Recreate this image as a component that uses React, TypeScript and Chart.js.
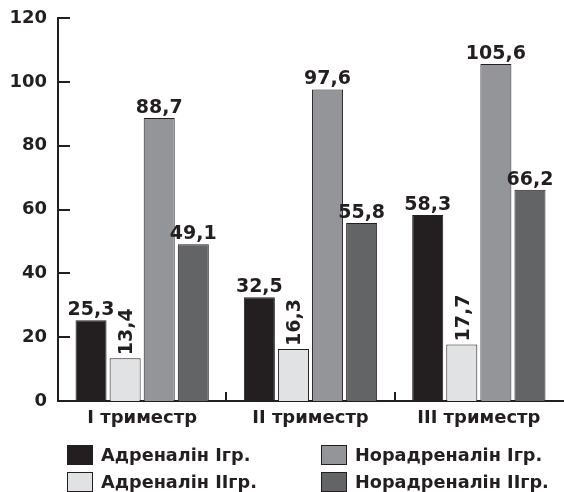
import React, { useEffect, useRef } from "react";
import { Chart, registerables } from "chart.js";
Chart.register(...registerables);

const categories = ["I триместр", "II триместр", "III триместр"];
const seriesNames = ["Адреналін Ігр.", "Адреналін ІІгр.", "Норадреналін Ігр.", "Норадреналін ІІгр."];
const adrenalin1 = [25.3, 32.5, 58.3];
const adrenalin2 = [13.4, 16.3, 17.7];
const noradrenalin1 = [88.7, 97.6, 105.6];
const noradrenalin2 = [49.1, 55.8, 66.2];
const yMin = 0;
const yMax = 120;
const yStep = 20;
const colors = ["#231f20", "#e1e2e4", "#939598", "#636466"];
const INK = "#231f20";
const FONT = "'DejaVu Sans', sans-serif";

const valueLabels = {
  id: "valueLabels",
  afterDatasetsDraw(chart: any) {
    const ctx = chart.ctx;
    ctx.save();
    ctx.font = `bold 19px ${FONT}`;
    ctx.fillStyle = INK;
    chart.data.datasets.forEach((ds: any, i: number) => {
      const meta = chart.getDatasetMeta(i);
      meta.data.forEach((bar: any, j: number) => {
        const txt = String(ds.data[j]).replace(".", ",");
        if (i === 1) {
          ctx.save();
          ctx.translate(bar.x + 2, bar.y - 3);
          ctx.rotate(-Math.PI / 2);
          ctx.textAlign = "left";
          ctx.textBaseline = "middle";
          ctx.fillText(txt, 0, 0);
          ctx.restore();
        } else {
          ctx.textAlign = "center";
          ctx.textBaseline = "alphabetic";
          ctx.fillText(txt, bar.x, bar.y - 5);
        }
      });
    });
    ctx.restore();
  },
};

const innerTicks = {
  id: "innerTicks",
  afterDraw(chart: any) {
    const ctx = chart.ctx;
    const area = chart.chartArea;
    const y = chart.scales.y;
    const x = chart.scales.x;
    ctx.save();
    ctx.strokeStyle = INK;
    ctx.lineWidth = 2;
    y.ticks.forEach((t: any) => {
      if (t.value === 0) return;
      const py = Math.round(y.getPixelForValue(t.value));
      ctx.beginPath();
      ctx.moveTo(area.left, py);
      ctx.lineTo(area.left + 12, py);
      ctx.stroke();
    });
    for (let i = 0; i < categories.length - 1; i++) {
      const px = Math.round((x.getPixelForValue(i) + x.getPixelForValue(i + 1)) / 2);
      ctx.beginPath();
      ctx.moveTo(px, area.bottom);
      ctx.lineTo(px, area.bottom - 9);
      ctx.stroke();
    }
    ctx.restore();
  },
};

export default function App() {
  const ref = useRef<HTMLCanvasElement>(null);
  useEffect(() => {
    document.body.style.margin = "0";
    const data = [adrenalin1, adrenalin2, noradrenalin1, noradrenalin2];
    const chart = new Chart(ref.current as HTMLCanvasElement, {
      type: "bar",
      data: {
        labels: categories,
        datasets: data.map((d, i) => ({
          label: seriesNames[i],
          data: d,
          backgroundColor: colors[i],
          borderColor: INK,
          borderWidth: 1,
          categoryPercentage: 0.81,
          barPercentage: 0.91,
        })),
      },
      options: {
        responsive: false,
        animation: false,
        layout: { padding: { top: 18, right: 1, left: 0, bottom: 0 } },
        plugins: { legend: { display: false }, tooltip: { enabled: false } },
        scales: {
          x: {
            grid: { display: false, drawTicks: false },
            border: { display: true, width: 2, color: INK },
            ticks: { color: INK, font: { family: FONT, size: 18, weight: "bold" }, padding: 7 },
            afterFit: (s: any) => { s.height = 91; },
          },
          y: {
            min: yMin,
            max: yMax,
            grid: { display: false, drawTicks: false },
            border: { display: true, width: 2, color: INK },
            ticks: { stepSize: yStep, color: INK, font: { family: FONT, size: 18, weight: "bold" }, padding: 11 },
            afterFit: (s: any) => { s.width = 58; s.paddingTop = 0; s.paddingBottom = 0; },
          },
        },
      },
      plugins: [valueLabels, innerTicks],
    });
    return () => chart.destroy();
  }, []);

  const legendOrder = [0, 2, 1, 3];
  return (
    <div style={{ position: "relative", width: 564, height: 492, overflow: "hidden" }}>
      <canvas ref={ref} width={564} height={492} style={{ display: "block" }} />
      {legendOrder.map((idx, k) => {
        const col = k % 2;
        const row = Math.floor(k / 2);
        const left = col === 0 ? 67 : 321;
        const top = 445 + row * 27;
        return (
          <div key={idx} style={{ position: "absolute", left, top, display: "flex", alignItems: "center", height: 20 }}>
            <div style={{ width: 26, height: 20, background: colors[idx], border: `1px solid ${INK}`, boxSizing: "border-box", flex: "none" }} />
            <span style={{ marginLeft: 8, fontFamily: FONT, fontWeight: "bold", fontSize: 17.7, lineHeight: "20px", color: INK, whiteSpace: "nowrap" }}>
              {seriesNames[idx]}
            </span>
          </div>
        );
      })}
    </div>
  );
}
